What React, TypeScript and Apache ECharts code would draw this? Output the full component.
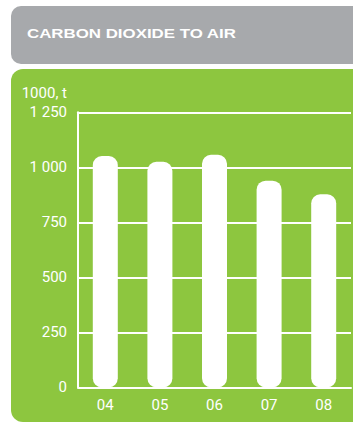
import React, { useEffect, useRef } from "react";
import * as echarts from "echarts";

const title = "CARBON DIOXIDE TO AIR";
const unitLabel = "1000, t";
const categories = ["04", "05", "06", "07", "08"];
const values = [1051, 1025, 1057, 939, 877];
const yMin = 0;
const yMax = 1250;
const yInterval = 250;

const GREEN = "#8dc63f";
const GREY = "#a7a9ac";
const WHITE = "#ffffff";

function fmt(v: number): string {
  const s = String(Math.round(v));
  return s.replace(/\B(?=(\d{3})+(?!\d))/g, " ");
}

export default function App() {
  const ref = useRef<HTMLDivElement>(null);
  useEffect(() => {
    document.body.style.margin = "0";
    if (!ref.current) return;
    const chart = echarts.init(ref.current, null, { renderer: "svg" });
    chart.setOption({
      animation: false,
      backgroundColor: "#ffffff",
      graphic: [
        {
          type: "rect",
          z: -10,
          silent: true,
          shape: { x: 11, y: 6, width: 380, height: 58, r: 10 },
          style: { fill: GREY },
        },
        {
          type: "rect",
          z: -10,
          silent: true,
          shape: { x: 11, y: 69, width: 380, height: 353, r: 12 },
          style: { fill: GREEN },
        },
        {
          type: "text",
          x: 27,
          y: 33,
          scaleX: 1.25,
          style: {
            text: title,
            fill: WHITE,
            font: "bold 13.5px 'Liberation Sans', Arial, sans-serif",
            textAlign: "left",
            textVerticalAlign: "middle",
          },
        },
        {
          type: "text",
          x: 67,
          y: 93,
          style: {
            text: unitLabel,
            fill: WHITE,
            font: "15px Roboto, sans-serif",
            textAlign: "right",
            textVerticalAlign: "middle",
          },
        },
      ],
      grid: {
        left: 78,
        right: 2,
        top: 112.3,
        bottom: 35.7,
        containLabel: false,
        outerBoundsMode: "none",
      },
      xAxis: {
        type: "category",
        data: categories,
        axisLine: { show: true, lineStyle: { color: WHITE, width: 2 } },
        axisTick: { show: false },
        axisLabel: {
          color: WHITE,
          fontFamily: "Roboto, sans-serif",
          fontSize: 15,
          margin: 10,
        },
        splitLine: { show: false },
      },
      yAxis: {
        type: "value",
        min: yMin,
        max: yMax,
        interval: yInterval,
        axisLine: { show: true, lineStyle: { color: WHITE, width: 2 } },
        axisTick: { show: false },
        axisLabel: {
          color: WHITE,
          fontFamily: "Roboto, sans-serif",
          fontSize: 15,
          margin: 11,
          formatter: (v: number) => fmt(v),
        },
        splitLine: { show: true, lineStyle: { color: WHITE, width: 2 } },
      },
      series: [
        {
          type: "bar",
          data: values,
          barWidth: 25,
          itemStyle: { color: WHITE, borderRadius: 9 },
          z: 3,
        },
      ],
    });
    return () => chart.dispose();
  }, []);
  return (
    <div
      ref={ref}
      style={{ position: "absolute", left: 0, top: 0, width: 353, height: 423 }}
    />
  );
}
